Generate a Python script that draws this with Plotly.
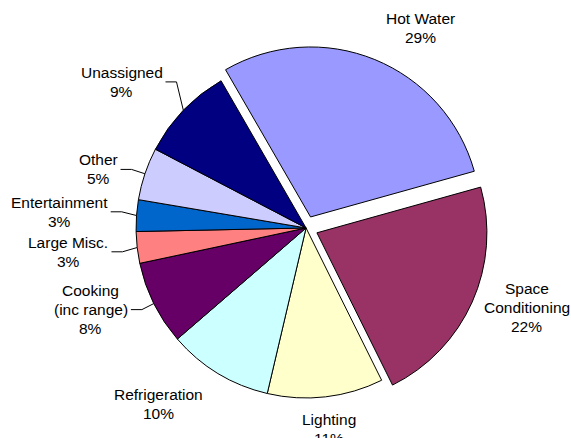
import math
import plotly.graph_objects as go

# ---- data ----
categories = ["Hot Water", "Space Conditioning", "Lighting", "Refrigeration",
              "Cooking (inc range)", "Large Misc.", "Entertainment", "Other", "Unassigned"]
label_lines = [["Hot Water"], ["Space", "Conditioning"], ["Lighting"], ["Refrigeration"],
               ["Cooking", "(inc range)"], ["Large Misc."], ["Entertainment"], ["Other"],
               ["Unassigned"]]
values = [29, 22, 11, 10, 8, 3, 3, 5, 9]
colors = ["#9999FF", "#993366", "#FFFFCC", "#CCFFFF", "#660066",
          "#FF8080", "#0066CC", "#CCCCFF", "#000080"]
pulls = [0.07, 0.07, 0, 0, 0, 0, 0, 0, 0]

W, H = 571, 438
rotation = -30
dom_x = [0.176, 0.896]
dom_y = [0.0642, 0.8948]
FS = 15.5
LP = 19  # line pitch in px
GAP = 2
FONT = "Liberation Sans, Arial, sans-serif"

# Arial advance widths (per 1000 em) for width estimates
AW = {" ": 278, "%": 889, ".": 278, "(": 333, ")": 333,
      "A": 667, "C": 722, "E": 667, "H": 722, "L": 556, "M": 833, "O": 778,
      "R": 722, "S": 667, "U": 722, "W": 944,
      "a": 556, "c": 500, "d": 556, "e": 556, "f": 278, "g": 556, "h": 556,
      "i": 222, "k": 500, "l": 222, "m": 833, "n": 556, "o": 556, "p": 556,
      "r": 333, "s": 500, "t": 278, "u": 556}


def text_w(t):
    return sum(AW.get(ch, 556) for ch in t) * FS / 1000


fig = go.Figure(go.Pie(
    labels=categories, values=values, sort=False, direction="clockwise",
    rotation=rotation, pull=pulls,
    marker=dict(colors=colors, line=dict(color="black", width=1)),
    textinfo="none", hoverinfo="label+percent",
    domain=dict(x=dom_x, y=dom_y), showlegend=False,
))

# geometry of the pie in pixels (same rules plotly uses)
boxw = W * (dom_x[1] - dom_x[0])
boxh = H * (dom_y[1] - dom_y[0])
r = min(boxw, boxh) / (2 + 2 * max(pulls))
cx = W * (dom_x[0] + dom_x[1]) / 2
cy = H * (1 - dom_y[0]) - boxh / 2

total = sum(values)
cum = 0
blocks = []
for lines, v, p in zip(label_lines, values, pulls):
    a0 = rotation + 360 * cum / total
    cum += v
    a1 = rotation + 360 * cum / total
    mid = math.radians((a0 + a1) / 2)
    s, c = math.sin(mid), math.cos(mid)
    pcx = cx + s * p * r
    pcy = cy - c * p * r
    px = pcx + s * 1.17 * r
    py = pcy - c * 1.08 * r
    pct = round(100 * v / total)
    all_lines = lines + [f"{pct}%"]
    bw = max(text_w(t) for t in all_lines)
    bh = len(all_lines) * LP
    if s > 0.2:
        left = px
    elif s < -0.2:
        left = px - bw
    else:
        left = px - bw / 2
    left = min(max(left, 1), W - 1 - bw)
    if c > 0.5:
        top = py - bh
    elif c < -0.5:
        top = py
    else:
        top = py - bh / 2
    side = "L" if s < -0.2 else ("R" if s > 0.2 else "C")
    blocks.append(dict(lines=all_lines, v=v, s=s, c=c, pcx=pcx, pcy=pcy,
                       left=left, bw=bw, top=top, bh=bh, side=side))

# push apart labels on the same side that would overlap
for _ in range(10):
    for side in ("L", "R"):
        grp = sorted([b for b in blocks if b["side"] == side], key=lambda b: b["top"])
        for b1, b2 in zip(grp, grp[1:]):
            ov = b1["top"] + b1["bh"] + GAP - b2["top"]
            if ov > 0:
                b1["top"] -= ov / 2
                b2["top"] += ov / 2

annotations = []
shapes = []
for b in blocks:
    bcx = b["left"] + b["bw"] / 2
    for k, t in enumerate(b["lines"]):
        ly = b["top"] + LP * (k + 0.5)
        annotations.append(dict(
            x=bcx / W, y=1 - ly / H, xref="paper", yref="paper",
            text=t, showarrow=False, xanchor="center", yanchor="middle",
            font=dict(family=FONT, size=FS, color="black"),
        ))
    if b["v"] < 10:
        s, c = b["s"], b["c"]
        midy = b["top"] + b["bh"] / 2
        sgn = 1 if s < 0 else -1
        edge = b["left"] + b["bw"] if s < 0 else b["left"]
        x0 = edge + 3 * sgn
        x1 = edge + 14 * sgn
        ex = b["pcx"] + s * r
        ey = b["pcy"] - c * r
        path = (f"M {x0 / W},{1 - midy / H} L {x1 / W},{1 - midy / H} "
                f"L {ex / W},{1 - ey / H}")
        shapes.append(dict(type="path", path=path, xref="paper", yref="paper",
                           line=dict(color="black", width=1)))

fig.update_layout(
    width=W, height=H, margin=dict(l=0, r=0, t=0, b=0),
    paper_bgcolor="white", plot_bgcolor="white",
    annotations=annotations, shapes=shapes,
)

fig.write_html("out.html")
